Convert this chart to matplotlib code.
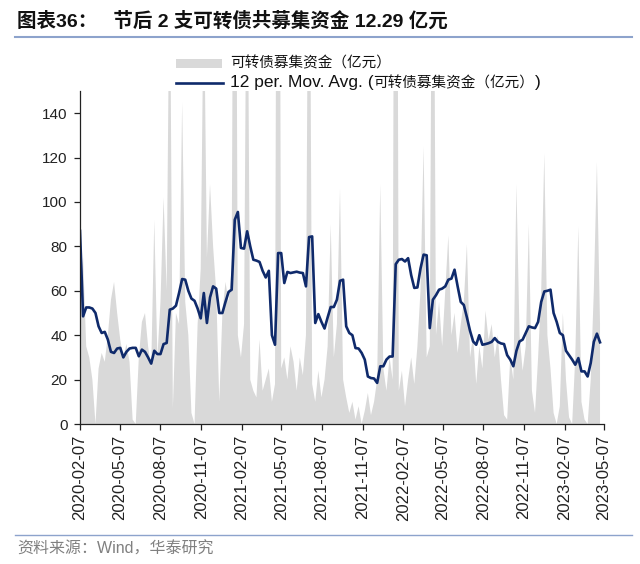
import numpy as np
import pandas as pd
import matplotlib
matplotlib.use('Agg')
import matplotlib.pyplot as plt
from matplotlib.lines import Line2D
from matplotlib.patches import Rectangle

plt.rcParams['font.family'] = ['Liberation Sans', 'Noto Sans CJK SC']
plt.rcParams['axes.unicode_minus'] = False

# weekly fundraising of convertible bonds (100m yuan)
start_date = '2020-02-07'
amount = [60, 75, 35, 30, 20, 0, 25, 32, 28, 40,
          56, 64, 50, 38, 30, 36, 28, 2, 0, 30,
          46, 50, 35, 25, 92, 30, 55, 102, 60, 220,
          7, 50, 45, 145, 55, 40, 5, 0, 45, 70,
          200, 75, 108, 80, 60, 10, 50, 64, 55, 70,
          400, 40, 30, 45, 260, 20, 15, 12, 38, 15,
          20, 25, 10, 18, 500, 25, 30, 20, 35, 28,
          15, 30, 22, 40, 300, 18, 10, 24, 12, 20,
          35, 90, 30, 45, 106, 20, 12, 5, 10, 2,
          8, 0, 6, 14, 4, 10, 20, 108, 25, 15,
          30, 20, 500, 15, 24, 8, 20, 30, 18, 35,
          60, 125, 30, 35, 320, 40, 55, 35, 60, 85,
          40, 50, 32, 45, 55, 81, 30, 40, 18, 35,
          25, 51, 38, 45, 30, 40, 20, 4, 2, 30,
          20, 108, 40, 24, 35, 90, 15, 5, 30, 60,
          122, 40, 25, 5, 0, 8, 50, 20, 3, 0,
          30, 89, 10, 2, 0, 20, 60, 118, 45]

# 12 period moving average as drawn in the chart
mov_avg = [87, 48.5, 52.5, 52.5, 52, 50, 44, 41, 41.5, 38,
           32.5, 32, 34, 34.3, 30, 32.5, 34, 34.3, 34.3, 30.5,
           33.5, 32.5, 30, 27.2, 33, 31.5, 31.5, 36, 36.5, 51.5,
           52, 53.3, 59, 65.3, 65, 60, 56.5, 55.5, 52, 47.6,
           59, 45.5, 57, 62, 61, 50, 50, 55, 59.5, 60.5,
           92, 95.5, 79.3, 79, 86.8, 80, 74, 73.6, 73, 69,
           66, 69, 40, 35.7, 77, 77, 63.5, 68.5, 68, 68.3,
           68.6, 68.2, 68, 62, 84.2, 84.5, 45.5, 49.5, 46, 43,
           48, 52.7, 52.7, 56, 64.5, 65, 44, 41, 40, 34.2,
           34, 32, 29, 21.4, 20.7, 20.5, 18.5, 26, 26, 29,
           30.4, 30.4, 72, 74, 74.3, 73.2, 74.7, 67, 61.3, 61.5,
           70, 76.3, 76, 43.2, 56, 58, 60.5, 61, 62, 65,
           65.5, 69.5, 62, 55, 53.6, 48, 42, 37.2, 35.7, 40,
           35.7, 36, 36.4, 37, 38.7, 37, 36.3, 36, 31, 29,
           26, 33, 37.2, 38, 41, 44, 43.5, 43.2, 46, 55,
           59.7, 60, 60.5, 50, 46, 41, 40, 33, 31, 29,
           26.7, 29.7, 23.7, 23.7, 21.4, 27.5, 37, 40.7, 36.8]

tick_labels = ['2020-02-07', '2020-05-07', '2020-08-07', '2020-11-07',
               '2021-02-07', '2021-05-07', '2021-08-07', '2021-11-07',
               '2022-02-07', '2022-05-07', '2022-08-07', '2022-11-07',
               '2023-02-07', '2023-05-07']

name_bar = '可转债募集资金（亿元）'
name_ma_head = '12 per. Mov. Avg. ('
name_ma_cn = '可转债募集资金（亿元）'
name_ma_tail = ')'

gray = '#d9d9d9'
navy = '#0f2a6b'

dates = pd.date_range(start_date, periods=len(amount), freq='7D')
ticks = pd.to_datetime(tick_labels)

W, H = 640, 564
fig = plt.figure(figsize=(W/100, H/100), dpi=100)
ax = fig.add_axes([80/W, 1-424/H, (604-80)/W, (424-91)/H])

ax.fill_between(dates, 0, amount, color=gray, linewidth=0, label=name_bar)
ax.plot(dates, mov_avg, color=navy, lw=1.9, label=name_ma_head + name_ma_cn + name_ma_tail)

ax.set_ylim(0, 150)
ax.set_yticks(np.arange(0, 141, 20))
ax.set_xlim(ticks[0], ticks[-1])
ax.set_xticks(ticks)
ax.set_xticklabels(tick_labels, rotation=90)

for s in ['top', 'right']:
    ax.spines[s].set_visible(False)
for s in ['left', 'bottom']:
    ax.spines[s].set_color('#222222')
    ax.spines[s].set_linewidth(0.9)
ax.tick_params(axis='both', colors='#222222', length=4, width=0.9)
ax.tick_params(axis='x', labelsize=12, pad=4)
ax.tick_params(axis='y', labelsize=11, pad=5)

# legend drawn by hand: latin and chinese parts differ in size
fig.add_artist(Rectangle((176/W, 1-68/H), 46/W, 9/H, transform=fig.transFigure,
                         facecolor=gray, edgecolor='none'))
fig.text(230/W, 1-63/H, name_bar, fontsize=10.5, va='center', ha='left', color='#111111')
fig.add_artist(Line2D([176/W, 223/W], [1-83/H, 1-83/H], color=navy, lw=1.9))
renderer = fig.canvas.get_renderer()
t = fig.text(230/W, 1-83/H, name_ma_head, fontsize=12.5, va='center', ha='left', color='#111111')
x1 = t.get_window_extent(renderer).x1
t = fig.text(x1/W, 1-83/H, name_ma_cn, fontsize=10.5, va='center', ha='left', color='#111111')
x1 = t.get_window_extent(renderer).x1
fig.text(x1/W, 1-83/H, name_ma_tail, fontsize=12.5, va='center', ha='left', color='#111111')

# title and footer
fig.text(17/W, 1-21/H, '图表36：   节后 2 支可转债共募集资金 12.29 亿元',
         fontsize=14, fontweight='bold', va='center', ha='left', color='#111111')
fig.add_artist(Line2D([15/W, 632/W], [1-37/H, 1-37/H], color='#8da3cc', lw=1.5))
fig.add_artist(Line2D([15/W, 632/W], [1-535/H, 1-535/H], color='#8da3cc', lw=1.0))
fig.text(17/W, 1-549/H, '资料来源：Wind，华泰研究', fontsize=11.5,
         va='center', ha='left', color='#808080')

fig.savefig('out.png', dpi=100)
